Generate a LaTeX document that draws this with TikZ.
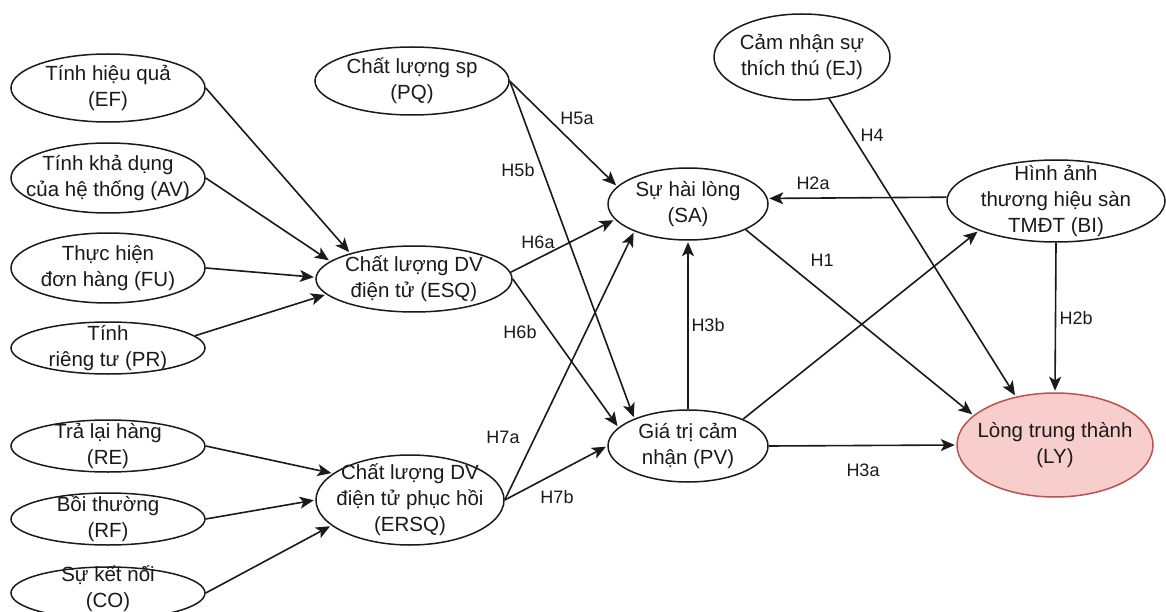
\documentclass[tikz,border=0pt]{standalone}
\usepackage{fontspec}
\setmainfont{Liberation Sans}
\usetikzlibrary{shapes.geometric,arrows.meta}
\definecolor{lyfill}{HTML}{F8CECC}
\definecolor{lydraw}{HTML}{B85450}
\definecolor{ink}{HTML}{1A1A1A}
\begin{document}
\begin{tikzpicture}[x=1pt,y=-1pt,
  ell/.style={ellipse,draw=ink,line width=1.5pt,inner sep=0pt},
  txt/.style={align=center,text=ink,inner sep=0pt,font=\fontsize{20.5}{26}\selectfont},
  arr/.style={draw=ink,line width=1.6pt,shorten >=1.5pt,-{Stealth[length=14pt,width=12pt,inset=3.5pt]}},
  hl/.style={text=ink,inner sep=1pt,font=\fontsize{18}{20}\selectfont}]
\useasboundingbox (0,0) rectangle (1166,612);
\clip (0,0) rectangle (1166,612);
\fill[white] (0,0) rectangle (1166,612);
% left column
\node[ell,minimum width=194pt,minimum height=68pt] (EF) at (108,88) {};
\node[txt] (EFt) at (EF) {Tính hiệu quả\\(EF)};
\node[ell,minimum width=194pt,minimum height=70pt] (AV) at (108,178) {};
\node[txt] (AVt) at (AV) {Tính khả dụng\\của hệ thống (AV)};
\node[ell,minimum width=194pt,minimum height=70pt] (FU) at (108,268) {};
\node[txt] (FUt) at (FU) {Thực hiện\\đơn hàng (FU)};
\node[ell,minimum width=194pt,minimum height=52pt] (PR) at (108,348) {};
\node[txt] (PRt) at (PR) {Tính\\riêng tư (PR)};
\node[ell,minimum width=194pt,minimum height=52pt] (RE) at (108,446) {};
\node[txt] (REt) at (RE) {Trả lại hàng\\(RE)};
\node[ell,minimum width=194pt,minimum height=52pt] (RF) at (108,519) {};
\node[txt] (RFt) at (RF) {Bồi thường\\(RF)};
\node[ell,minimum width=194pt,minimum height=52pt] (CO) at (108,593) {};
\node[txt] (COt) at (108,589) {Sự kết nối\\(CO)};
% middle column
\node[ell,minimum width=194pt,minimum height=68pt] (PQ) at (412,81) {};
\node[txt] (PQt) at (PQ) {Chất lượng sp\\(PQ)};
\node[ell,minimum width=196pt,minimum height=66pt] (ESQ) at (414,279) {};
\node[txt] (ESQt) at (ESQ) {Chất lượng DV\\điện tử (ESQ)};
\node[ell,minimum width=188pt,minimum height=90pt] (ERSQ) at (410,500) {};
\node[txt] (ERSQt) at (ERSQ) {Chất lượng DV\\điện tử phục hồi\\(ERSQ)};
% right part
\node[ell,minimum width=160pt,minimum height=72pt] (SA) at (688,204) {};
\node[txt] (SAt) at (SA) {Sự hài lòng\\(SA)};
\node[ell,minimum width=160pt,minimum height=72pt] (PV) at (688,446) {};
\node[txt] (PVt) at (PV) {Giá trị cảm\\nhận (PV)};
\node[ell,minimum width=176pt,minimum height=86pt] (EJ) at (802,57) {};
\node[txt] (EJt) at (EJ) {Cảm nhận sự\\thích thú (EJ)};
\node[ell,minimum width=218pt,minimum height=82pt] (BI) at (1056,201) {};
\node[txt] (BIt) at (BI) {Hình ảnh\\thương hiệu sàn\\TMĐT (BI)};
\node[ell,draw=lydraw,fill=lyfill,minimum width=196pt,minimum height=104pt] (LY) at (1055,445) {};
\node[txt] (LYt) at (LY) {Lòng trung thành\\(LY)};
% connectors
\draw[arr] (EF.east) -- (ESQ.158);
\draw[arr] (AV.east) -- (ESQ.168);
\draw[arr] (FU.east) -- (ESQ.179);
\draw[arr] (PR.8) -- (ESQ.190);
\draw[arr] (RE.east) -- (ERSQ.161);
\draw[arr] (RF.east) -- (ERSQ.180);
\draw[arr] (CO.east) -- (ERSQ.198);
\draw[arr] (PQ.east) -- (SA.166);
\draw[arr] (PQ.east) -- (PV.153);
\draw[arr] (ESQ.4) -- (SA.192);
\draw[arr] (ESQ.east) -- (PV.165);
\draw[arr] (ERSQ.east) -- (SA.207);
\draw[arr] (ERSQ.east) -- (PV.west);
\draw[arr] (PV.north) -- (SA.south);
\draw[arr] (PV.26) -- (BI.201);
\draw[arr] (PV.east) -- (LY.west);
\draw[arr] (SA.336) -- (LY.160);
\draw[arr] (EJ.303) -- (LY.129);
\draw[arr] (BI.178) -- (SA.4);
\draw[arr] (BI.south) -- (LY.north);
% labels
\node[hl] (h5a) at (577,118) {H5a};
\node[hl] (h5b) at (518,170) {H5b};
\node[hl] (h6a) at (538,242) {H6a};
\node[hl] (h6b) at (520,332) {H6b};
\node[hl] (h7a) at (503,437) {H7a};
\node[hl] (h7b) at (557,497) {H7b};
\node[hl] (h3b) at (708,325) {H3b};
\node[hl] (h3a) at (863,470) {H3a};
\node[hl] (h1) at (822,260) {H1};
\node[hl] (h2a) at (813,183) {H2a};
\node[hl] (h4) at (872,135) {H4};
\node[hl] (h2b) at (1076,318) {H2b};
\end{tikzpicture}
\end{document}
